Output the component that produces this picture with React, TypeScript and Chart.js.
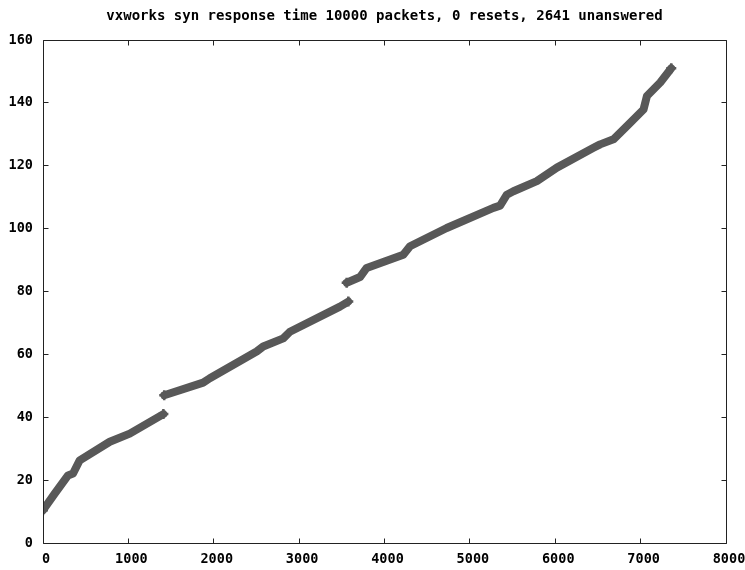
import React, { useEffect, useRef } from "react";
import { Chart, registerables } from "chart.js";

Chart.register(...registerables);

const TITLE = "vxworks syn response time 10000 packets, 0 resets, 2641 unanswered";
const X_TICKS = [0, 1000, 2000, 3000, 4000, 5000, 6000, 7000, 8000];
const Y_TICKS = [0, 20, 40, 60, 80, 100, 120, 140, 160];

// three runs of answered packets (index -> response time)
const seg1X = [0, 137, 293, 352, 430, 782, 1016, 1410];
const seg1Y = [10.4, 15.7, 21.5, 22.1, 26.3, 32.2, 34.8, 41.0];
const seg2X = [1420, 1876, 1954, 2502, 2579, 2814, 2892, 3478, 3576];
const seg2Y = [47.0, 51.0, 52.4, 60.9, 62.5, 65.1, 67.2, 75.2, 76.8];
const seg3X = [3557, 3713, 3791, 4220, 4299, 4729, 5275, 5354, 5433, 5510, 5784, 6019, 6448, 6526, 6682, 6839, 7034, 7074, 7230, 7359];
const seg3Y = [82.8, 84.6, 87.5, 91.7, 94.4, 100.2, 106.6, 107.3, 110.8, 111.9, 115.1, 119.4, 125.7, 126.8, 128.4, 132.6, 137.9, 142.2, 146.5, 151.0];

const FONT = '"DejaVu Sans Mono", "Liberation Mono", monospace';
const COLOR = "rgb(88,88,88)";

const framePlugin = {
  id: "frame",
  afterDraw(chart: any) {
    const { ctx, chartArea: a, scales } = chart;
    const fx = (v: number) => Math.floor(v) + 0.5;
    const L = fx(a.left), R = fx(a.right), T = fx(a.top), B = fx(a.bottom);
    const len = 5;
    ctx.save();
    ctx.strokeStyle = "#222";
    ctx.lineWidth = 1;
    ctx.beginPath();
    ctx.rect(L, T, R - L, B - T);
    for (const v of X_TICKS) {
      const p = fx(scales.x.getPixelForValue(v));
      ctx.moveTo(p, B); ctx.lineTo(p, B - len);
      ctx.moveTo(p, T); ctx.lineTo(p, T + len);
    }
    for (const v of Y_TICKS) {
      const p = fx(scales.y.getPixelForValue(v));
      ctx.moveTo(L, p); ctx.lineTo(L + len, p);
      ctx.moveTo(R, p); ctx.lineTo(R - len, p);
    }
    ctx.stroke();
    ctx.fillStyle = "#000";
    ctx.font = `bold 14px ${FONT}`;
    ctx.textAlign = "center";
    ctx.textBaseline = "middle";
    ctx.fillText(TITLE, (a.left + a.right) / 2, 16.5);
    ctx.restore();
  },
};

function mk(xs: number[], ys: number[]) {
  const last = xs.length - 1;
  return {
    data: xs.map((x, i) => ({ x, y: ys[i] })),
    showLine: true,
    borderColor: COLOR,
    backgroundColor: COLOR,
    borderWidth: 8,
    tension: 0,
    borderJoinStyle: "round" as const,
    borderCapStyle: "round" as const,
    pointStyle: "cross" as const,
    pointRadius: (c: any) => (c.dataIndex === 0 || c.dataIndex === last ? 5 : 0),
    pointBorderWidth: 2.5,
    pointBorderColor: COLOR,
  };
}

export default function App() {
  const ref = useRef<HTMLCanvasElement>(null);
  useEffect(() => {
    const chart = new Chart(ref.current!, {
      type: "scatter",
      data: { datasets: [mk(seg1X, seg1Y), mk(seg2X, seg2Y), mk(seg3X, seg3Y)] },
      options: {
        animation: false,
        responsive: false,
        layout: { padding: { top: 40, right: 19, left: 0, bottom: 0 } },
        plugins: { legend: { display: false }, tooltip: { enabled: false }, title: { display: false } },
        scales: {
          x: {
            type: "linear",
            min: 0,
            max: 8000,
            afterBuildTicks: (s: any) => { s.ticks = X_TICKS.map((v) => ({ value: v })); },
            afterFit: (s: any) => { s.height = 27; s.paddingLeft = 0; s.paddingRight = 0; },
            grid: { display: false, drawTicks: false },
            border: { display: false },
            ticks: { color: "#000", font: { family: FONT, size: 13.5, weight: "bold" }, padding: 8, labelOffset: 3, maxRotation: 0, autoSkip: false, callback: (v: any) => String(v) },
          },
          y: {
            type: "linear",
            min: 0,
            max: 160,
            afterBuildTicks: (s: any) => { s.ticks = Y_TICKS.map((v) => ({ value: v })); },
            afterFit: (s: any) => { s.width = 43; s.paddingTop = 0; s.paddingBottom = 0; },
            grid: { display: false, drawTicks: false },
            border: { display: false },
            ticks: { color: "#000", font: { family: FONT, size: 13.5, weight: "bold" }, padding: 10, callback: (v: any) => String(v) },
          },
        },
      },
      plugins: [framePlugin],
    });
    return () => chart.destroy();
  }, []);
  return (
    <div style={{ position: "absolute", left: 0, top: 0, width: 745, height: 570, background: "#fff" }}>
      <canvas ref={ref} width={745} height={570} />
    </div>
  );
}
